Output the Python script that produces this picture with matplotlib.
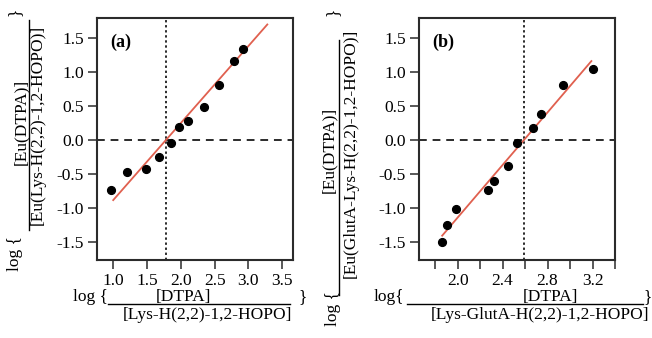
#!/usr/bin/env python
import matplotlib
matplotlib.use('Agg')
import matplotlib.pyplot as plt
from matplotlib.lines import Line2D
import numpy as np

# panel (a)
x_a = [0.97, 1.21, 1.49, 1.68, 1.85, 1.98, 2.11, 2.35, 2.57, 2.78, 2.92]
y_a = [-0.73, -0.47, -0.43, -0.25, -0.05, 0.19, 0.28, 0.48, 0.80, 1.16, 1.33]
fit_a_x = [1.0, 3.28]
fit_a = (1.13, 1.78)          # slope, x at y = 0
xticks_a = [1.0, 1.5, 2.0, 2.5, 3.0, 3.5]

# panel (b)
x_b = [1.865, 1.91, 1.99, 2.27, 2.32, 2.45, 2.53, 2.67, 2.74, 2.94, 3.20]
y_b = [-1.50, -1.24, -1.01, -0.74, -0.60, -0.38, -0.05, 0.17, 0.38, 0.80, 1.04]
fit_b_x = [1.863, 3.19]
fit_b = (1.93, 2.59)
xticks_b = [2.0, 2.4, 2.8, 3.2]
xminor_b = [1.8, 2.2, 2.6, 3.0, 3.4]

yticks = [-1.5, -1.0, -0.5, 0.0, 0.5, 1.0, 1.5]

W, H = 652, 338
FONT = 'Liberation Serif'
FS = 12.5
DARK = '#2b2b2b'
RED = '#e0604f'


def fx(px):
    return px / W


def fy(py):
    return 1 - py / H


def panel(ax, x, y, fit_x, fit, xlim, xticks, vline, tag):
    s, x0 = fit
    fx_ = np.array(fit_x)
    ax.axhline(0, color=DARK, lw=1.4, ls=(0, (4, 3)), zorder=1)
    ax.axvline(vline, color=DARK, lw=1.4, ls=(0, (1.2, 1.4)), zorder=1)
    ax.plot(fx_, s * (fx_ - x0), color=RED, lw=1.3, zorder=2)
    ax.plot(x, y, 'o', color='black', ms=5.6, zorder=3)
    ax.set_xlim(*xlim)
    ax.set_ylim(-1.76, 1.79)
    ax.set_xticks(xticks)
    ax.set_yticks(yticks)
    ax.set_xticklabels(['%.1f' % v for v in xticks], fontfamily=FONT, fontsize=FS)
    ax.set_yticklabels(['%.1f' % v for v in yticks], fontfamily=FONT, fontsize=FS)
    ax.tick_params(direction='out', length=6.5, width=1.1, color=DARK, pad=3)
    ax.tick_params(which='minor', direction='out', length=6.5, width=1.1, color=DARK)
    for sp in ax.spines.values():
        sp.set_linewidth(1.5)
        sp.set_color(DARK)
    ax.text(0.07, 0.90, tag, transform=ax.transAxes, fontfamily=FONT,
            fontsize=FS + 0.5, fontweight='bold', va='center', ha='left')


def ylabel(fig, x_log, y_log, x_num, y_num, x_line, y0, y1, x_den, y_den, num, den):
    kw = dict(rotation=90, ha='center', va='center', fontfamily=FONT, fontsize=FS)
    fig.text(fx(x_log), fy(y_log), 'log {', **kw)
    fig.text(fx(x_log), fy(12), '}', **kw)
    fig.text(fx(x_num), fy(y_num), num, **kw)
    fig.text(fx(x_den), fy(y_den), den, **kw)
    fig.add_artist(Line2D([fx(x_line), fx(x_line)], [fy(y0), fy(y1)], color='black', lw=1.0))


def xlabel(fig, x_log, x_num, x0, x1, x_br, x_den, num, den, logtxt):
    kw = dict(ha='center', va='center', fontfamily=FONT, fontsize=FS)
    fig.text(fx(x_log), fy(297), logtxt, **kw)
    fig.text(fx(x_num), fy(297), num, **kw)
    fig.text(fx(x_br), fy(297), '}', **kw)
    fig.text(fx(x_den), fy(315), den, **kw)
    fig.add_artist(Line2D([fx(x0), fx(x1)], [fy(304), fy(304)], color='black', lw=1.0))


def main():
    fig = plt.figure(figsize=(6.52, 3.38), dpi=100)
    ax_a = fig.add_axes([fx(97), fy(260), fx(293) - fx(97), fy(18) - fy(260)])
    ax_b = fig.add_axes([fx(419), fy(260), fx(615) - fx(419), fy(18) - fy(260)])

    panel(ax_a, x_a, y_a, fit_a_x, fit_a, (0.76, 3.66), xticks_a, fit_a[1], '(a)')
    panel(ax_b, x_b, y_b, fit_b_x, fit_b, (1.657, 3.335), xticks_b, fit_b[1], '(b)')
    ax_b.set_xticks(xminor_b, minor=True)

    ylabel(fig, 15, 254, 21, 122, 29, 20, 230, 38, 125,
           '[Eu(DTPA)]', '[Eu(Lys-H(2,2)-1,2-HOPO)]')
    ylabel(fig, 333, 309, 329, 150, 339, 40, 295, 351, 153,
           '[Eu(DTPA)]', '[Eu(GlutA-Lys-H(2,2)-1,2-HOPO)]')

    xlabel(fig, 90, 183, 108, 290, 303, 207,
           '[DTPA]', '[Lys-H(2,2)-1,2-HOPO]', 'log {')
    xlabel(fig, 389, 550, 407, 643, 648, 540,
           '[DTPA]', '[Lys-GlutA-H(2,2)-1,2-HOPO]', 'log{')

    fig.savefig('out.png', dpi=100)


if __name__ == '__main__':
    main()
